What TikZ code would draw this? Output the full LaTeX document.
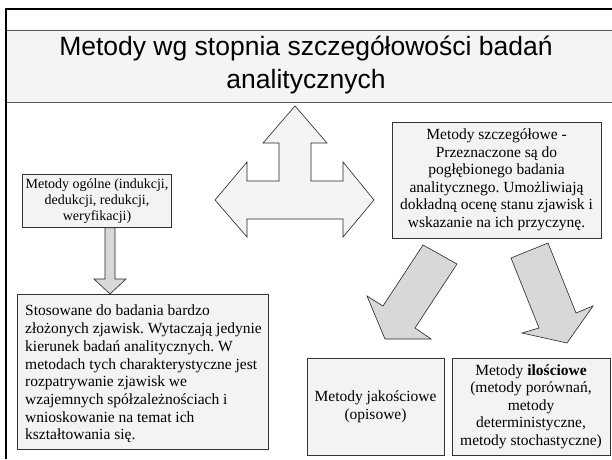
\documentclass[tikz,border=0pt]{standalone}
\usepackage{fontspec}
\setmainfont{Liberation Serif}
\newfontfamily\titlefont{Liberation Sans}
\frenchspacing
\definecolor{boxfill}{HTML}{F3F3F3}
\definecolor{arrowgray}{HTML}{D8D8D8}
\definecolor{bandfill}{HTML}{F4F4F4}
\definecolor{bandline}{HTML}{555555}
\begin{document}
\begin{tikzpicture}[x=1pt,y=-1pt,
  infobox/.style={draw=black!80, fill=boxfill, line width=0.8pt, inner sep=3pt,
    font=\fontsize{15.5}{17.5}\selectfont, align=center},
  smallbox/.style={infobox, font=\fontsize{14}{16}\selectfont},
  blockarrow/.style={draw=black!85, line width=0.6pt, line join=miter}]
  % canvas
  \useasboundingbox (0,0) rectangle (612,459);
  \fill[white] (0,0) rectangle (612,459);

  % title band
  \fill[bandfill] (7,30) rectangle (612,102);
  \draw[bandline, line width=0.8pt] (7,30) -- (612,30);
  \draw[bandline, line width=0.8pt] (7,102) -- (612,102);
  \node (title) at (306,65) [align=center, font=\titlefont\fontsize{26.5}{32.5}\selectfont]
    {Metody wg stopnia szczegółowości badań\\analitycznych};

  % outer frame (top and left edges)
  \draw[black, line width=2.2pt] (6,459) -- (6,9) -- (612,9);

  % three-way arrow
  \draw[blockarrow, fill=bandfill]
    (295,106) -- (327,143) -- (311,143) -- (311,181) -- (343,181) -- (343,162)
    -- (374,200) -- (343,237) -- (343,219) -- (247,219) -- (247,237)
    -- (215,200) -- (247,162) -- (247,181) -- (279,181) -- (279,143)
    -- (263,143) -- cycle;

  % boxes
  \node[smallbox, minimum width=140pt, minimum height=53pt] (general) at (97,201)
    {Metody ogólne (indukcji,\\dedukcji, redukcji,\\weryfikacji)};
  \node[infobox, minimum width=251pt, minimum height=155pt] (generaldesc) at (142.5,371.5) {};
  \node[anchor=west, align=left, inner sep=0pt, font=\fontsize{15.5}{17.7}\selectfont]
    (generaltext) at (25,374)
    {Stosowane do badania bardzo\\złożonych zjawisk. Wytaczają jedynie\\kierunek badań analitycznych. W\\metodach tych charakterystyczne jest\\rozpatrywanie zjawisk we\\wzajemnych spółzależnościach i\\wnioskowanie na temat ich\\kształtowania się.};
  \node[infobox, minimum width=209pt, minimum height=116pt] (detailed) at (496.5,180)
    {Metody szczegółowe -\\Przeznaczone są do\\pogłębionego badania\\analitycznego. Umożliwiają\\dokładną ocenę stanu zjawisk i\\wskazanie na ich przyczynę.};
  \node[infobox, minimum width=137pt, minimum height=97pt] (quality) at (375.5,406.5)
    {Metody jakościowe\\(opisowe)};
  \node[infobox, minimum width=158pt, minimum height=97pt] (quantity) at (531,406.5)
    {Metody \textbf{ilościowe}\\(metody porównań,\\metody\\deterministyczne,\\metody stochastyczne)};

  % arrow from the general methods box down to its description
  \draw[blockarrow, fill=arrowgray]
    (general.south -| 105,0) -- (105,279) -- (94,279) -- (110,294) -- (126,279)
    -- (115,279) -- (general.south -| 115,0) -- cycle;

  % diagonal arrows below the detailed methods box
  \draw[blockarrow, fill=arrowgray]
    (423,245) -- (457,264) -- (415,328) -- (431,339) -- (385,339)
    -- (367,296) -- (383,306) -- cycle;
  \draw[blockarrow, fill=arrowgray]
    (511,258) -- (548,243) -- (576,313) -- (593,306) -- (567,343)
    -- (522,333) -- (539,328) -- cycle;
\end{tikzpicture}
\end{document}
